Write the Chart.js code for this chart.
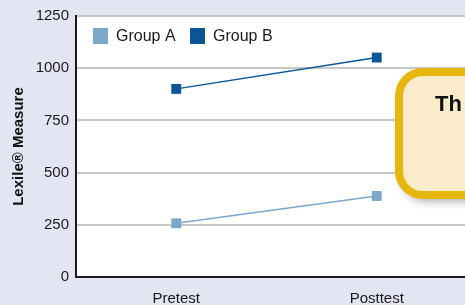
<!DOCTYPE html>
<html>
<head>
<meta charset="utf-8">
<script src="https://cdn.jsdelivr.net/npm/chart.js@4.4.0/dist/chart.umd.min.js"></script>
<style>
  html, body { margin: 0; padding: 0; overflow: hidden; background: #e3e6f2; }
  canvas { display: block; }
</style>
</head>
<body>
<canvas id="lexileChart" width="484" height="305"></canvas>
<script>
// chart values
const categories = ['Pretest', 'Posttest'];
const groupA = [257, 388];
const groupB = [901, 1051];
const seriesNames = ['Group A', 'Group B'];
const yTicks = [0, 250, 500, 750, 1000, 1250];

const colorA = '#7ba7cb';
const colorB = '#0b5596';

// page background + white plot area
const backgroundPlugin = {
    id: 'bg',
    beforeDraw(chart) {
        const ctx = chart.ctx;
        const a = chart.chartArea;
        ctx.save();
        ctx.fillStyle = '#e3e6f2';
        ctx.fillRect(0, 0, chart.width, chart.height);
        ctx.fillStyle = '#ffffff';
        ctx.fillRect(a.left, a.top, a.right - a.left, a.bottom - a.top);
        ctx.restore();
    }
};

// legend inside the plot, top-left
const legendPlugin = {
    id: 'innerLegend',
    afterDatasetsDraw(chart) {
        const ctx = chart.ctx;
        const a = chart.chartArea;
        const xs = [a.left + 17, a.left + 114];
        ctx.save();
        ctx.font = '16px "Liberation Sans", Arial, sans-serif';
        ctx.textBaseline = 'middle';
        chart.data.datasets.forEach((ds, i) => {
            ctx.fillStyle = ds.borderColor;
            ctx.fillRect(xs[i], a.top + 12, 15, 16);
            ctx.fillStyle = '#1a1a1a';
            ctx.fillText(ds.label, xs[i] + 23, a.top + 20.5);
        });
        ctx.restore();
    }
};

// yellow callout box clipped at the right edge
const calloutPlugin = {
    id: 'callout',
    afterDraw(chart) {
        const ctx = chart.ctx;
        const x = 399, y = 72, w = 140, h = 123, r = 24;
        ctx.save();
        ctx.shadowColor = 'rgba(0,0,0,0.35)';
        ctx.shadowBlur = 10;
        ctx.shadowOffsetX = 3;
        ctx.shadowOffsetY = 6;
        ctx.beginPath();
        ctx.roundRect(x, y, w, h, r);
        ctx.fillStyle = '#faebcb';
        ctx.fill();
        ctx.shadowColor = 'transparent';
        ctx.lineWidth = 8;
        ctx.strokeStyle = '#e8b70d';
        ctx.stroke();
        ctx.fillStyle = '#111111';
        ctx.font = 'bold 22px "Liberation Sans", Arial, sans-serif';
        ctx.textBaseline = 'alphabetic';
        ctx.fillText('Th', 435, 111);
        ctx.restore();
    }
};

const ctx = document.getElementById('lexileChart').getContext('2d');
const lexileChart = new Chart(ctx, {
    type: 'line',
    data: {
        labels: categories,
        datasets: [{
            label: seriesNames[0],
            data: groupA,
            borderColor: colorA,
            backgroundColor: colorA,
            borderWidth: 1.5,
            pointStyle: 'rect',
            pointRadius: 7,
            pointBorderWidth: 0
        }, {
            label: seriesNames[1],
            data: groupB,
            borderColor: colorB,
            backgroundColor: colorB,
            borderWidth: 1.5,
            pointStyle: 'rect',
            pointRadius: 7,
            pointBorderWidth: 0
        }]
    },
    options: {
        responsive: false,
        animation: false,
        layout: { padding: { top: 15, right: 2, left: 0, bottom: 0 } },
        plugins: {
            legend: { display: false },
            tooltip: { enabled: false }
        },
        scales: {
            x: {
                offset: true,
                grid: { display: false },
                border: { color: '#1a1a1a', width: 2 },
                ticks: {
                    color: '#1a1a1a',
                    padding: 5,
                    font: { family: '"Liberation Sans", Arial, sans-serif', size: 15 }
                },
                afterFit(scale) { scale.height = 28; }
            },
            y: {
                min: 0,
                max: 1250,
                afterBuildTicks(scale) { scale.ticks = yTicks.map(v => ({ value: v })); },
                grid: { color: '#c8c8c8', lineWidth: 2, drawTicks: false },
                border: { color: '#1a1a1a', width: 2 },
                ticks: {
                    color: '#1a1a1a',
                    padding: 7,
                    callback: v => String(v),
                    font: { family: '"Liberation Sans", Arial, sans-serif', size: 15 }
                },
                title: {
                    display: true,
                    text: 'Lexile® Measure',
                    color: '#111111',
                    padding: { top: 10, bottom: 0 },
                    font: { family: '"Liberation Sans", Arial, sans-serif', size: 15, weight: 'bold' }
                },
                afterFit(scale) { scale.width = 76; }
            }
        }
    },
    plugins: [backgroundPlugin, legendPlugin, calloutPlugin]
});
</script>
</body>
</html>
